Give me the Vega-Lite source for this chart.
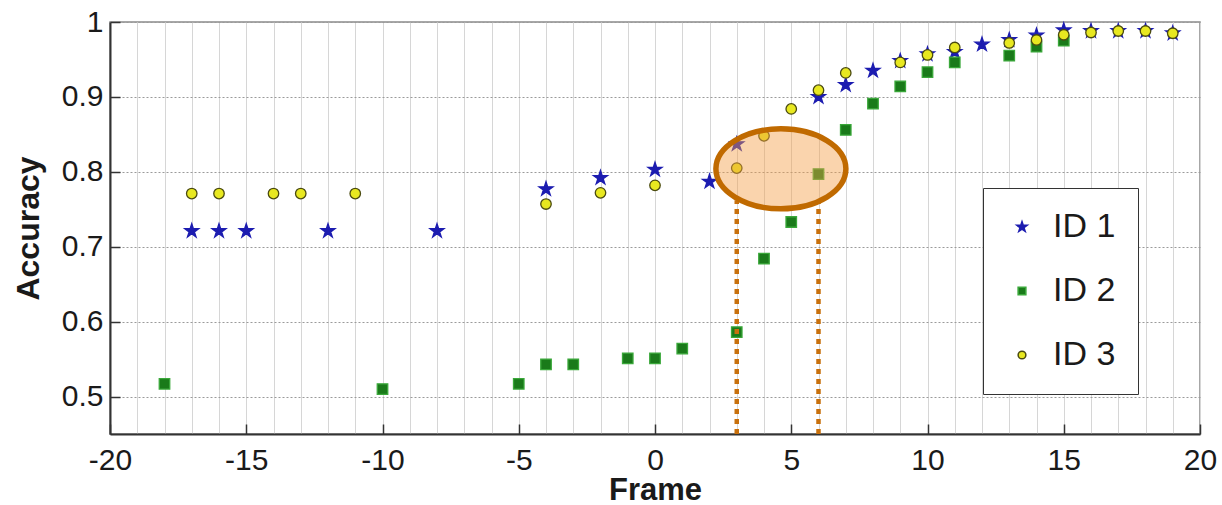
{
  "$schema": "https://vega.github.io/schema/vega-lite/v6.json",
  "width": 1090,
  "height": 412,
  "autosize": "none",
  "padding": {"left": 110, "top": 22, "right": 22, "bottom": 71},
  "background": "white",
  "config": {
    "view": {"stroke": "#8a8a8a", "strokeWidth": 1.5},
    "font": "Liberation Sans"
  },
  "resolve": {"axis": {"x": "independent"}},
  "datasets": {
    "points": [
      {"id": "ID 1", "frame": -17, "acc": 0.721},
      {"id": "ID 1", "frame": -16, "acc": 0.721},
      {"id": "ID 1", "frame": -15, "acc": 0.721},
      {"id": "ID 1", "frame": -12, "acc": 0.721},
      {"id": "ID 1", "frame": -8, "acc": 0.721},
      {"id": "ID 1", "frame": -4, "acc": 0.777},
      {"id": "ID 1", "frame": -2, "acc": 0.792},
      {"id": "ID 1", "frame": 0, "acc": 0.803},
      {"id": "ID 1", "frame": 2, "acc": 0.787},
      {"id": "ID 1", "frame": 3, "acc": 0.837},
      {"id": "ID 1", "frame": 6, "acc": 0.9},
      {"id": "ID 1", "frame": 7, "acc": 0.916},
      {"id": "ID 1", "frame": 8, "acc": 0.935},
      {"id": "ID 1", "frame": 9, "acc": 0.948},
      {"id": "ID 1", "frame": 10, "acc": 0.957},
      {"id": "ID 1", "frame": 11, "acc": 0.96},
      {"id": "ID 1", "frame": 12, "acc": 0.97},
      {"id": "ID 1", "frame": 13, "acc": 0.976},
      {"id": "ID 1", "frame": 14, "acc": 0.982},
      {"id": "ID 1", "frame": 15, "acc": 0.989},
      {"id": "ID 1", "frame": 16, "acc": 0.988},
      {"id": "ID 1", "frame": 17, "acc": 0.988},
      {"id": "ID 1", "frame": 18, "acc": 0.988},
      {"id": "ID 1", "frame": 19, "acc": 0.985},
      {"id": "ID 2", "frame": -18, "acc": 0.517},
      {"id": "ID 2", "frame": -10, "acc": 0.51},
      {"id": "ID 2", "frame": -5, "acc": 0.517},
      {"id": "ID 2", "frame": -4, "acc": 0.543},
      {"id": "ID 2", "frame": -3, "acc": 0.543},
      {"id": "ID 2", "frame": -1, "acc": 0.551},
      {"id": "ID 2", "frame": 0, "acc": 0.551},
      {"id": "ID 2", "frame": 1, "acc": 0.564},
      {"id": "ID 2", "frame": 3, "acc": 0.586},
      {"id": "ID 2", "frame": 4, "acc": 0.684},
      {"id": "ID 2", "frame": 5, "acc": 0.733},
      {"id": "ID 2", "frame": 6, "acc": 0.797},
      {"id": "ID 2", "frame": 7, "acc": 0.856},
      {"id": "ID 2", "frame": 8, "acc": 0.891},
      {"id": "ID 2", "frame": 9, "acc": 0.914},
      {"id": "ID 2", "frame": 10, "acc": 0.933},
      {"id": "ID 2", "frame": 11, "acc": 0.946},
      {"id": "ID 2", "frame": 13, "acc": 0.955},
      {"id": "ID 2", "frame": 14, "acc": 0.967},
      {"id": "ID 2", "frame": 15, "acc": 0.975},
      {"id": "ID 3", "frame": -17, "acc": 0.771},
      {"id": "ID 3", "frame": -16, "acc": 0.771},
      {"id": "ID 3", "frame": -14, "acc": 0.771},
      {"id": "ID 3", "frame": -13, "acc": 0.771},
      {"id": "ID 3", "frame": -11, "acc": 0.771},
      {"id": "ID 3", "frame": -4, "acc": 0.757},
      {"id": "ID 3", "frame": -2, "acc": 0.772},
      {"id": "ID 3", "frame": 0, "acc": 0.782},
      {"id": "ID 3", "frame": 3, "acc": 0.805},
      {"id": "ID 3", "frame": 4, "acc": 0.848},
      {"id": "ID 3", "frame": 5, "acc": 0.884},
      {"id": "ID 3", "frame": 6, "acc": 0.909},
      {"id": "ID 3", "frame": 7, "acc": 0.932},
      {"id": "ID 3", "frame": 9, "acc": 0.946},
      {"id": "ID 3", "frame": 10, "acc": 0.956},
      {"id": "ID 3", "frame": 11, "acc": 0.966},
      {"id": "ID 3", "frame": 13, "acc": 0.972},
      {"id": "ID 3", "frame": 14, "acc": 0.976},
      {"id": "ID 3", "frame": 15, "acc": 0.983},
      {"id": "ID 3", "frame": 16, "acc": 0.986},
      {"id": "ID 3", "frame": 17, "acc": 0.988},
      {"id": "ID 3", "frame": 18, "acc": 0.988},
      {"id": "ID 3", "frame": 19, "acc": 0.985}
    ],
    "guides": [
      {"frame": 3, "acc": 0.45, "acc2": 0.762},
      {"frame": 6, "acc": 0.45, "acc2": 0.762}
    ],
    "oval": [
      {"frame": 4.62, "acc": 0.804}
    ]
  },
  "layer": [
    {
      "data": {"name": "points"},
      "mark": {"type": "point", "filled": true, "size": 110, "strokeWidth": 1.3, "opacity": 1},
      "encoding": {
        "x": {
          "field": "frame", "type": "quantitative", "title": "Frame",
          "scale": {"domain": [-20, 20], "nice": false, "zero": false},
          "axis": {
            "orient": "bottom",
            "values": [-20, -15, -10, -5, 0, 5, 10, 15, 20],
            "labelExpr": "'' + datum.value",
            "grid": true,
            "gridColor": "#9a9a9a",
            "gridDash": [2, 2],
            "gridWidth": 1,
            "tickSize": -10,
            "tickWidth": 1.5,
            "tickColor": "#333",
            "domainColor": "#333",
            "domainWidth": 2,
            "labelFontSize": 30,
            "labelColor": "#1a1a1a",
            "labelPadding": 21,
            "labelFlush": false,
            "labelOverlap": false,
            "titleFontSize": 31,
            "titleFontWeight": "bold",
            "titleColor": "#1a1a1a",
            "titlePadding": 0
          }
        },
        "y": {
          "field": "acc", "type": "quantitative", "title": "Accuracy",
          "scale": {"domain": [0.45, 1], "nice": false, "zero": false},
          "axis": {
            "values": [0.5, 0.6, 0.7, 0.8, 0.9, 1],
            "format": "~g",
            "grid": true,
            "gridColor": "#9a9a9a",
            "gridDash": [2, 2],
            "gridWidth": 1,
            "tickSize": -10,
            "tickWidth": 1.5,
            "tickColor": "#333",
            "domainColor": "#333",
            "domainWidth": 2,
            "labelFontSize": 30,
            "labelColor": "#1a1a1a",
            "labelPadding": 17,
            "labelFlush": false,
            "labelOverlap": false,
            "titleFontSize": 32,
            "titleFontWeight": "bold",
            "titleColor": "#1a1a1a",
            "titlePadding": 16
          }
        },
        "fill": {
          "field": "id", "type": "nominal", "title": null,
          "scale": {"domain": ["ID 1", "ID 2", "ID 3"], "range": ["#1c1cb0", "#1a7a1a", "#e8e820"]},
          "legend": {
            "orient": "none", "legendX": 873, "legendY": 166,
            "strokeColor": "#333", "fillColor": "white", "padding": 22,
            "labelFontSize": 34, "labelColor": "#1a1a1a",
            "symbolSize": 60, "rowPadding": 30, "labelOffset": 14,
            "symbolOffset": 0
          }
        },
        "stroke": {
          "field": "id", "type": "nominal", "title": null,
          "scale": {"domain": ["ID 1", "ID 2", "ID 3"], "range": ["#1c1cb0", "#3aa83a", "#4a4a10"]}
        },
        "shape": {
          "field": "id", "type": "nominal", "title": null,
          "scale": {"domain": ["ID 1", "ID 2", "ID 3"], "range": ["M0,-1.4L0.314,-0.433L1.331,-0.433L0.509,0.165L0.823,1.133L0,0.535L-0.823,1.133L-0.509,0.165L-1.331,-0.433L-0.314,-0.433Z", "square", "circle"]}
        }
      }
    },
    {
      "data": {"name": "guides"},
      "mark": {"type": "rule", "color": "#c8700c", "strokeWidth": 4.5, "strokeDash": [5, 5], "strokeCap": "butt"},
      "encoding": {
        "x": {
          "field": "frame", "type": "quantitative", "title": null,
          "axis": {
            "orient": "top",
            "values": [-20,-19,-18,-17,-16,-15,-14,-13,-12,-11,-10,-9,-8,-7,-6,-5,-4,-3,-2,-1,0,1,2,3,4,5,6,7,8,9,10,11,12,13,14,15,16,17,18,19,20],
            "grid": true,
            "gridColor": "#d6d6d6",
            "gridWidth": 1,
            "ticks": false,
            "labels": false,
            "domain": false,
            "title": null
          }
        },
        "y": {"field": "acc", "type": "quantitative", "title": "Accuracy"},
        "y2": {"field": "acc2"}
      }
    },
    {
      "data": {"name": "oval"},
      "mark": {
        "type": "point",
        "shape": "M-1,0C-1,-0.3397,-0.5523,-0.615,0,-0.615C0.5523,-0.615,1,-0.3397,1,0C1,0.3397,0.5523,0.615,0,0.615C-0.5523,0.615,-1,0.3397,-1,0Z",
        "size": 16900,
        "filled": true,
        "fill": "#f5a04a",
        "fillOpacity": 0.45,
        "stroke": "#c06a00",
        "strokeOpacity": 1,
        "strokeWidth": 5.5,
        "opacity": 1
      },
      "encoding": {
        "x": {"field": "frame", "type": "quantitative", "axis": null},
        "y": {"field": "acc", "type": "quantitative", "title": "Accuracy"}
      }
    }
  ]
}
